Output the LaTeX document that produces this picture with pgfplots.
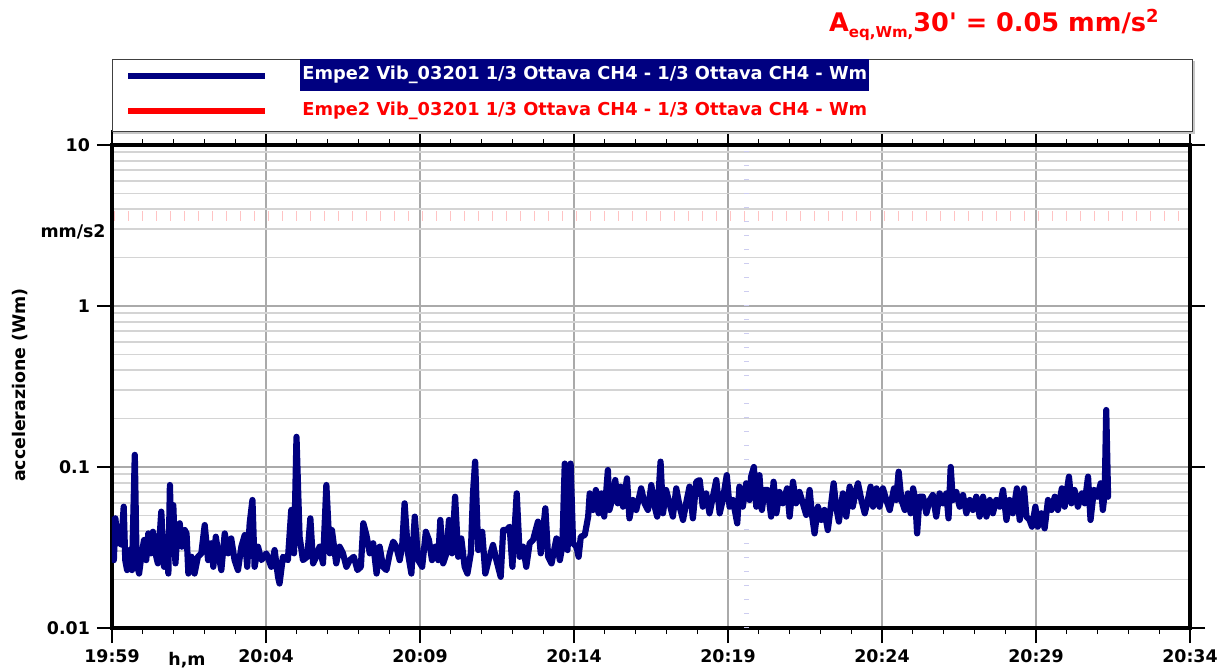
\documentclass[border=0pt]{standalone}
\usepackage{fontspec}
\setmainfont{DejaVu Sans}
\usepackage{pgfplots}
\pgfplotsset{compat=1.18}
\definecolor{navy}{RGB}{0,0,128}
\definecolor{lgrid}{RGB}{212,212,212}
\definecolor{mgrid}{RGB}{170,170,170}
\definecolor{pinkt}{RGB}{255,195,195}
\definecolor{lav}{RGB}{205,205,240}
\newcommand{\lbl}{\bfseries\fontsize{8.7}{10}\selectfont}
\newcommand{\leg}{\bfseries\fontsize{8.9}{10}\selectfont}
\pgfplotstableread{
x y
0.03 0.047
0.06 0.0264
0.11 0.048
0.19 0.0336
0.25 0.0426
0.30 0.033
0.38 0.0567
0.43 0.0264
0.49 0.0229
0.57 0.0305
0.65 0.0229
0.74 0.119
0.80 0.0252
0.88 0.0218
0.95 0.0277
1.04 0.0352
1.11 0.0264
1.18 0.0387
1.26 0.0291
1.33 0.0396
1.41 0.0291
1.49 0.0252
1.60 0.0528
1.69 0.0240
1.77 0.0320
1.83 0.0218
1.88 0.0773
1.94 0.0291
1.99 0.058
2.06 0.0252
2.12 0.0387
2.20 0.0447
2.27 0.0320
2.36 0.0406
2.42 0.0387
2.48 0.0218
2.58 0.0277
2.68 0.0218
2.79 0.0277
2.90 0.0291
3.01 0.0436
3.12 0.0264
3.22 0.0336
3.29 0.0240
3.37 0.0369
3.45 0.0291
3.55 0.0229
3.66 0.0387
3.77 0.0291
3.87 0.036
3.98 0.0264
4.09 0.0229
4.20 0.0320
4.31 0.0378
4.39 0.0240
4.47 0.0447
4.56 0.0624
4.63 0.0240
4.74 0.0320
4.85 0.0264
5.01 0.0291
5.17 0.0240
5.28 0.0305
5.39 0.0208
5.44 0.0189
5.55 0.0277
5.71 0.0264
5.82 0.0541
5.91 0.0291
5.99 0.154
6.09 0.0369
6.20 0.0264
6.34 0.0277
6.44 0.048
6.53 0.0252
6.63 0.0277
6.74 0.0320
6.85 0.0252
6.96 0.0773
7.07 0.0291
7.14 0.0406
7.28 0.0252
7.39 0.0320
7.50 0.0291
7.61 0.0240
7.72 0.0264
7.85 0.0277
7.97 0.0229
8.08 0.0240
8.16 0.0447
8.26 0.0378
8.37 0.0291
8.48 0.0336
8.59 0.0218
8.69 0.0320
8.80 0.0240
8.91 0.0229
9.02 0.0291
9.13 0.0344
9.23 0.0320
9.34 0.0264
9.42 0.0320
9.50 0.0595
9.61 0.0291
9.72 0.0218
9.83 0.0492
9.94 0.0264
10.07 0.0240
10.19 0.0396
10.29 0.0352
10.39 0.0264
10.50 0.0320
10.59 0.0264
10.66 0.0469
10.75 0.0252
10.86 0.0291
10.94 0.0469
11.04 0.0291
11.14 0.0654
11.24 0.0277
11.34 0.036
11.45 0.0240
11.54 0.0218
11.65 0.0291
11.72 0.0686
11.79 0.108
11.89 0.0305
12.02 0.0396
12.12 0.0218
12.23 0.0264
12.37 0.0328
12.48 0.0264
12.62 0.0208
12.70 0.0406
12.81 0.0406
12.91 0.0426
13.00 0.0240
13.14 0.0686
13.24 0.0277
13.35 0.0320
13.45 0.0240
13.56 0.0336
13.67 0.0352
13.83 0.0458
13.92 0.0291
14.07 0.0554
14.16 0.0277
14.27 0.0252
14.43 0.036
14.54 0.0264
14.62 0.0320
14.70 0.105
14.79 0.0305
14.89 0.105
14.97 0.0336
15.08 0.0320
15.15 0.0277
15.22 0.0369
15.35 0.0378
15.46 0.0492
15.51 0.0686
15.62 0.0541
15.71 0.0720
15.80 0.0516
15.89 0.0686
15.98 0.0492
16.05 0.0720
16.10 0.0958
16.15 0.0541
16.26 0.0654
16.34 0.0830
16.42 0.0595
16.51 0.0755
16.59 0.0567
16.72 0.085
16.80 0.048
16.91 0.0624
17.02 0.0541
17.18 0.0737
17.29 0.0595
17.40 0.0541
17.51 0.0773
17.62 0.0567
17.70 0.0492
17.81 0.108
17.89 0.0516
17.99 0.0720
18.10 0.0595
18.21 0.0492
18.32 0.0737
18.43 0.0567
18.54 0.0469
18.64 0.0595
18.75 0.0755
18.86 0.048
18.97 0.081
19.08 0.0830
19.18 0.0567
19.29 0.0686
19.40 0.0516
19.51 0.0654
19.62 0.0830
19.73 0.0516
19.83 0.0624
19.96 0.089
20.05 0.0567
20.16 0.0624
20.30 0.0447
20.37 0.0755
20.48 0.0567
20.59 0.0792
20.70 0.0624
20.75 0.0871
20.84 0.100
20.92 0.0567
21.02 0.089
21.10 0.0541
21.19 0.0720
21.29 0.0720
21.40 0.0492
21.48 0.081
21.57 0.0516
21.67 0.070
21.78 0.0595
21.92 0.0737
22.00 0.0492
22.11 0.081
22.21 0.0595
22.32 0.070
22.43 0.0595
22.54 0.0504
22.65 0.0720
22.72 0.0516
22.81 0.0387
22.92 0.0567
23.03 0.0469
23.13 0.0541
23.24 0.0406
23.33 0.0554
23.43 0.0792
23.51 0.0567
23.60 0.0458
23.73 0.0686
23.84 0.0492
23.95 0.0755
24.05 0.0567
24.16 0.0720
24.22 0.0792
24.33 0.0624
24.44 0.0516
24.54 0.0624
24.63 0.0755
24.71 0.0567
24.82 0.0737
24.92 0.0567
25.03 0.0737
25.14 0.0624
25.25 0.0541
25.39 0.0737
25.46 0.0624
25.54 0.0935
25.63 0.0624
25.74 0.0541
25.84 0.0686
25.93 0.0516
26.01 0.0737
26.08 0.0624
26.14 0.0387
26.22 0.0654
26.33 0.0654
26.44 0.0516
26.55 0.0624
26.65 0.067
26.76 0.0492
26.87 0.0686
26.98 0.0595
27.09 0.0686
27.16 0.048
27.23 0.100
27.30 0.0624
27.41 0.070
27.52 0.0567
27.63 0.067
27.74 0.0516
27.85 0.0624
27.95 0.0541
28.06 0.0654
28.17 0.0492
28.28 0.0654
28.39 0.0492
28.50 0.0624
28.60 0.0516
28.71 0.0624
28.82 0.0567
28.93 0.0720
29.04 0.0469
29.14 0.0624
29.25 0.0516
29.38 0.0737
29.47 0.0469
29.61 0.0737
29.69 0.0492
29.79 0.0469
29.87 0.0426
29.98 0.0567
30.06 0.0426
30.17 0.0516
30.28 0.0416
30.39 0.0624
30.50 0.0541
30.61 0.0654
30.71 0.0541
30.84 0.0737
30.93 0.0567
31.07 0.0871
31.15 0.0595
31.25 0.0720
31.36 0.0567
31.49 0.0686
31.58 0.0595
31.69 0.0871
31.77 0.0469
31.88 0.0720
31.99 0.0654
32.10 0.0792
32.17 0.0541
32.23 0.0686
32.28 0.226
32.34 0.0654
}\wmdata
\begin{document}
\begin{tikzpicture}
\path[use as bounding box] (0,0) rectangle (612.5pt,335.5pt);
\begin{axis}[
  at={(56pt,21.5pt)}, anchor=south west,
  scale only axis, width=539pt, height=241.5pt,
  xmin=0, xmax=35, ymode=log, ymin=0.01, ymax=10,
  xtick={0,5,...,35},
  xticklabels={19:59,20:04,20:09,20:14,20:19,20:24,20:29,20:34},
  minor xtick={1,2,3,4,6,7,8,9,11,12,13,14,16,17,18,19,21,22,23,24,26,27,28,29,31,32,33,34},
  ytick={0.01,0.1,1,10},
  yticklabels={0.01,0.1,1,10},
  minor ytick={0.02,0.03,0.04,0.05,0.06,0.07,0.08,0.09,0.2,0.3,0.4,0.5,0.6,0.7,0.8,0.9,2,3,4,5,6,7,8,9},
  tick align=outside,
  major tick length=7.5pt,
  minor tick length=3pt,
  xmajorgrids, ymajorgrids, yminorgrids,
  major grid style={mgrid, line width=0.7pt},
  minor grid style={lgrid, line width=0.9pt},
  axis line style={black, line width=2pt},
  tick style={black, line width=0.6pt},
  minor y tick style={draw=none},
  ticklabel style={font=\lbl},
  ylabel={accelerazione (Wm)},
  ylabel style={font=\lbl, at={(axis description cs:-0.0853,0.503)}, anchor=center},
  xlabel={h,m},
  xlabel style={font=\lbl, at={(axis description cs:0.0696,-0.066)}, anchor=center},
]
\addplot[pinkt, line width=5pt, dash pattern=on 0.6pt off 6.4pt, dash phase=-1pt] coordinates {(0,3.6) (35,3.6)};
\addplot[lav, line width=2.5pt, dash pattern=on 0.6pt off 6.4pt] coordinates {(20.6,0.01) (20.6,10)};
\addplot[navy, line width=3.1pt, line join=round, line cap=round] table[x=x,y=y] {\wmdata};
\end{axis}
\begin{scope}[x=0.5pt, y=-0.5pt, shift={(0pt,335.5pt)}]
  % legend frame
  \draw[gray!45, line width=1pt] (114,62) rectangle (1194,133);
  \draw[fill=white, draw=black!75, line width=0.5pt] (112,60) rectangle (1192,131);
  \draw[navy, line width=2.6pt] (128,76) -- (265,76);
  \draw[red, line width=2.6pt] (128,111) -- (265,111);
  \node[anchor=west, fill=navy, text=white, font=\leg, inner xsep=1pt, minimum height=15pt] at (300,75) {Empe2 Vib\_03201 1/3 Ottava CH4 - 1/3 Ottava CH4 - Wm};
  \node[anchor=west, text=red, font=\leg, inner xsep=1pt] at (300,111) {Empe2 Vib\_03201 1/3 Ottava CH4 - 1/3 Ottava CH4 - Wm};
  % title
  \node[anchor=east, text=red, font=\bfseries\fontsize{12.8}{15}\selectfont, inner sep=0pt] at (1160,25) {A\raisebox{-3pt}{\fontsize{7.5}{9}\selectfont eq,Wm,}30\textquotesingle{} = 0.05 mm/s\textsuperscript{2}};
  % unit
  \node[anchor=east, font=\lbl, inner sep=0pt] at (106,232) {mm/s2};
\end{scope}
\end{tikzpicture}
\end{document}
